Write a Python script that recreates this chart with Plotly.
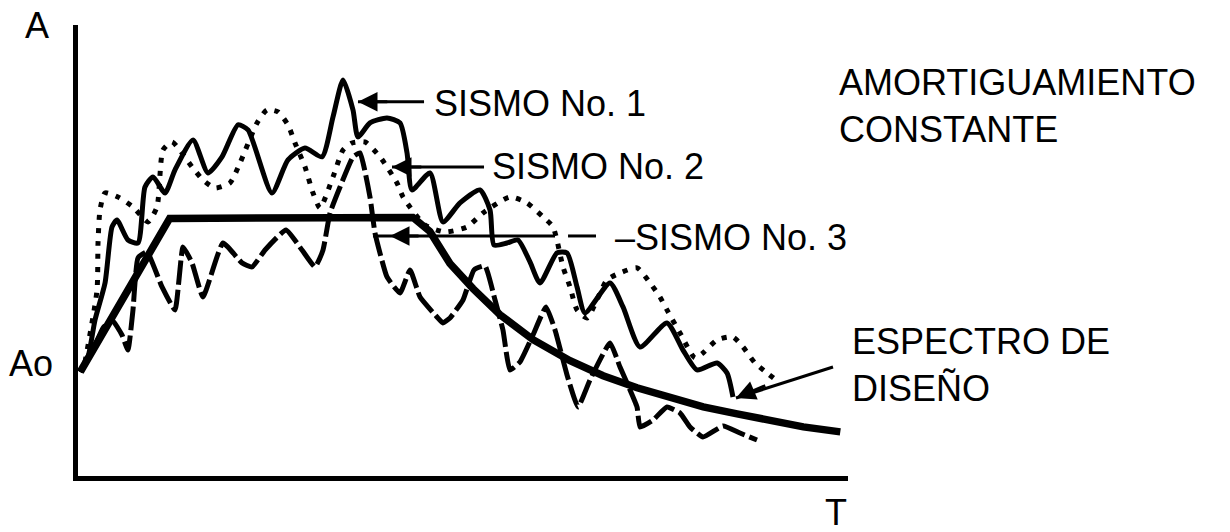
import plotly.graph_objects as go

# ---- data (T, A in arbitrary units) ----
design_T = [0.03, 1.19, 4.35, 4.57, 4.83, 5.13, 5.48, 5.91, 6.39, 6.82, 7.26, 7.69, 8.12, 8.56, 8.99, 9.42, 9.90]
design_A = [1.04, 2.57, 2.58, 2.44, 2.12, 1.87, 1.61, 1.36, 1.15, 1.00, 0.88, 0.78, 0.69, 0.62, 0.55, 0.49, 0.44]

s1_px = [80, 88, 95, 105, 112, 117, 128, 138, 145, 153, 165, 175, 193, 208, 222, 238, 248, 272, 288, 305, 322, 333, 343,
         353, 358, 370, 387, 400, 407, 412, 430, 443, 460, 480, 490, 494, 507, 518, 530, 540, 557, 567, 577, 585, 610, 623,
         640, 667, 683, 697, 717, 727, 733]
s1_py = [372, 357, 320, 283, 227, 220, 240, 243, 187, 177, 193, 170, 140, 173, 157, 125, 130, 193, 160, 148, 157, 117, 80,
         110, 137, 123, 118, 123, 153, 190, 173, 222, 203, 190, 210, 245, 243, 240, 262, 283, 253, 253, 287, 313, 283, 307,
         347, 323, 350, 370, 363, 373, 397]

s2_px = [85, 97, 98, 100, 105, 118, 133, 148, 157, 163, 172, 192, 203, 215, 230, 240, 257, 267, 278, 288, 295, 305, 313,
         320, 333, 343, 352, 365, 380, 397, 403, 425, 445, 467, 483, 510, 527, 543, 553, 563, 570, 577, 587, 607, 620,
         637, 650, 660, 667, 680, 695, 703, 717, 733, 743, 755, 767, 780]
s2_py = [362, 290, 243, 210, 193, 197, 207, 222, 207, 150, 142, 167, 180, 188, 183, 163, 123, 110, 112, 125, 143, 167, 193,
         208, 177, 150, 143, 142, 157, 183, 197, 225, 232, 227, 213, 197, 203, 217, 227, 267, 287, 310, 318, 280, 273,
         268, 283, 297, 310, 333, 358, 353, 340, 337, 347, 363, 373, 383]

s3_px = [80, 95, 103, 112, 122, 128, 133, 138, 147, 162, 175, 183, 192, 203, 223, 242, 252, 265, 286, 302, 315, 323, 330,
         340, 353, 360, 370, 375, 387, 400, 410, 420, 437, 443, 450, 463, 474, 485, 495, 503, 510, 520, 533, 546, 555,
         567, 578, 590, 610, 620, 637, 640, 653, 667, 680, 690, 703, 723, 740, 757]
s3_py = [372, 345, 328, 320, 335, 350, 310, 258, 252, 287, 310, 247, 263, 297, 243, 263, 267, 250, 230, 250, 267, 250, 213,
         187, 157, 153, 197, 233, 277, 293, 270, 297, 317, 323, 318, 300, 270, 266, 300, 330, 370, 362, 335, 307, 330,
         375, 407, 380, 343, 367, 407, 427, 420, 407, 413, 427, 437, 426, 433, 440]

labels = ["SISMO No. 1", "SISMO No. 2", "–SISMO No. 3"]
title_text = "AMORTIGUAMIENTO<br>CONSTANTE"
design_text = "ESPECTRO DE<br>DISEÑO"

# conversion of picture readings to chart units
def tT(px):
    return [round((p - 78) / 77, 3) for p in px]

def tA(py):
    return [round((476 - p) / 100.2, 3) for p in py]

def pxp(px):  # paper x
    return (px - 78) / 770

def pyp(py):  # paper y
    return (476 - py) / 451

s1_T, s1_A = tT(s1_px), tA(s1_py)
s2_T, s2_A = tT(s2_px), tA(s2_py)
s3_T, s3_A = tT(s3_px), tA(s3_py)

# leader lines
lead1_T = tT([358, 424]); lead1_A = tA([102, 102])
lead2_T = tT([392, 484]); lead2_A = tA([167, 167])
lead3_T = tT([373, 555]); lead3_A = tA([236, 236])
lead3b_T = tT([568, 596]); lead3b_A = tA([236, 236])
lead4_T = tT([736, 833]); lead4_A = tA([398, 367])

fig = go.Figure()
K = "black"
fig.add_trace(go.Scatter(x=s1_T, y=s1_A, mode="lines",
                         line=dict(color=K, width=5, shape="spline", smoothing=0.6)))
fig.add_trace(go.Scatter(x=s2_T, y=s2_A, mode="lines",
                         line=dict(color=K, width=5, dash="5px,8px", shape="spline", smoothing=0.6)))
fig.add_trace(go.Scatter(x=s3_T, y=s3_A, mode="lines",
                         line=dict(color=K, width=5, dash="24px,5px", shape="spline", smoothing=0.4)))
fig.add_trace(go.Scatter(x=design_T, y=design_A, mode="lines", line=dict(color=K, width=7.5)))
for lx, ly in [(lead1_T, lead1_A), (lead2_T, lead2_A), (lead3_T, lead3_A), (lead3b_T, lead3b_A), (lead4_T, lead4_A)]:
    fig.add_trace(go.Scatter(x=lx, y=ly, mode="lines", line=dict(color=K, width=3)))

font = dict(family="Liberation Sans, Arial, sans-serif", size=36, color=K)
ann = []
# arrowheads
for (tx, ty, ax, ay) in [(lead1_T[0], lead1_A[0], lead1_T[0] + 0.4, lead1_A[0]),
                         (lead2_T[0], lead2_A[0], lead2_T[0] + 0.4, lead2_A[0]),
                         (tT([390])[0], lead3_A[0], tT([420])[0], lead3_A[0]),
                         (lead4_T[0], lead4_A[0], lead4_T[0] + 0.4, lead4_A[0] + 0.13)]:
    ann.append(dict(x=tx, y=ty, ax=ax, ay=ay, xref="x", yref="y", axref="x", ayref="y",
                    text="", showarrow=True, arrowhead=2, arrowsize=1.3, arrowwidth=3, arrowcolor=K))

ann += [
    dict(x=pxp(432), y=pyp(103), text=labels[0], xanchor="left", yanchor="middle"),
    dict(x=pxp(490), y=pyp(167), text=labels[1], xanchor="left", yanchor="middle"),
    dict(x=pxp(613), y=pyp(237), text=labels[2], xanchor="left", yanchor="middle"),
    dict(x=pxp(837), y=pyp(106), text=title_text, xanchor="left", yanchor="middle", align="left"),
    dict(x=pxp(850), y=pyp(365), text=design_text, xanchor="left", yanchor="middle", align="left"),
    dict(x=pxp(37), y=pyp(25), text="A", xanchor="center", yanchor="middle"),
    dict(x=pxp(31), y=pyp(363), text="Ao", xanchor="center", yanchor="middle"),
    dict(x=pxp(836), y=pyp(512), text="T", xanchor="center", yanchor="middle"),
]
for a in ann[4:]:
    a["xref"] = "paper"; a["yref"] = "paper"; a["showarrow"] = False
for a in ann:
    a["font"] = font

fig.update_layout(
    width=1230, height=532,
    margin=dict(l=78, r=382, t=25, b=56),
    paper_bgcolor="white", plot_bgcolor="white",
    showlegend=False,
    annotations=ann,
    xaxis=dict(range=[0, 10], showline=True, linewidth=5, linecolor=K, showgrid=False,
               zeroline=False, showticklabels=False, ticks=""),
    yaxis=dict(range=[0, 4.5], showline=True, linewidth=5, linecolor=K, showgrid=False,
               zeroline=False, showticklabels=False, ticks=""),
)
fig.write_html("out.html", config={"displayModeBar": False},
               post_script="document.body.style.margin='0';document.body.style.overflow='hidden';")
